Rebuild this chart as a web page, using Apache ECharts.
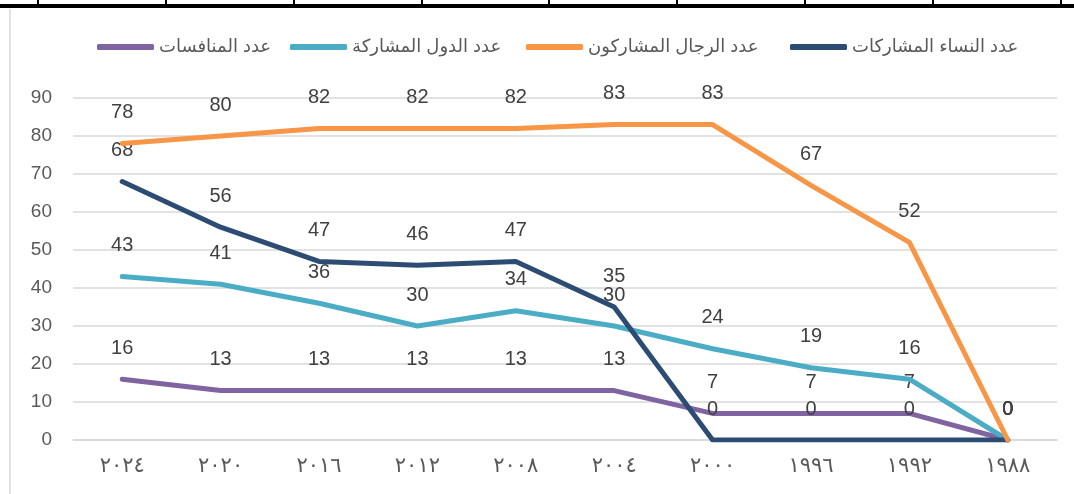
<!DOCTYPE html>
<html>
<head>
<meta charset="utf-8">
<script src="https://cdn.jsdelivr.net/npm/echarts@6/dist/echarts.min.js"></script>
<style>html,body{margin:0;padding:0;background:#fff}#c{width:1074px;height:494px}</style>
</head>
<body>
<div id="c"></div>
<script>
const categories = ['٢٠٢٤','٢٠٢٠','٢٠١٦','٢٠١٢','٢٠٠٨','٢٠٠٤','٢٠٠٠','١٩٩٦','١٩٩٢','١٩٨٨'];
const women = [68,56,47,46,47,35,0,0,0,0];
const men = [78,80,82,82,82,83,83,67,52,0];
const countries = [43,41,36,30,34,30,24,19,16,0];
const competitions = [16,13,13,13,13,13,7,7,7,0];
const yTicks = {min:0, max:90, interval:10};

const names = {
  women: 'عدد النساء المشاركات',
  men: 'عدد الرجال المشاركون',
  countries: 'عدد الدول المشاركة',
  competitions: 'عدد المنافسات'
};
const colors = {women:'#2C4C73', men:'#F79646', countries:'#4BACC6', competitions:'#8064A2'};

const chart = echarts.init(document.getElementById('c'));
function mkSeries(key, data, z){
  return {
    name: names[key], type:'line', data: data, z: z,
    symbol:'circle', symbolSize:0, showSymbol:true,
    lineStyle:{color:colors[key], width:5, cap:'round', join:'round'},
    itemStyle:{color:colors[key]},
    label:{show:true, position:'top', distance:21, color:'#404040', fontSize:20, fontFamily:'Liberation Sans, Arial, sans-serif'},
    emphasis:{disabled:true},
    animation:false
  };
}
function mkLegend(key, left){
  return {
    data:[names[key]], left:left, top:33, icon:'roundRect', itemWidth:57, itemHeight:6,
    itemStyle:{color:colors[key]},
    textStyle:{color:'#595959', fontSize:18, fontFamily:'Arial, DejaVu Sans, sans-serif'},
    selectedMode:false
  };
}
const tickXs = [38,166,294,422,549,677,805,933,1061];
const graphics = [
  {type:'rect', shape:{x:0,y:4,width:1074,height:4}, style:{fill:'#000'}},
  {type:'line', shape:{x1:10,y1:9,x2:10,y2:494}, style:{stroke:'#d9d9d9', lineWidth:1.5}}
].concat(tickXs.map(x=>({type:'line', shape:{x1:x,y1:0,x2:x,y2:5}, style:{stroke:'#000', lineWidth:2}})));

chart.setOption({
  animation:false,
  backgroundColor:'#fff',
  graphic: graphics,
  legend:[
    mkLegend('competitions', 92),
    mkLegend('countries', 285),
    mkLegend('men', 521),
    mkLegend('women', 785)
  ],
  grid:{left:73, right:17, top:98, bottom:54, containLabel:false},
  xAxis:{
    type:'category', data:categories, boundaryGap:true,
    axisLine:{show:true, lineStyle:{color:'#d9d9d9', width:1.5}},
    axisTick:{show:false},
    axisLabel:{color:'#595959', fontSize:21, margin:16, fontFamily:'DejaVu Sans, sans-serif'}
  },
  yAxis:{
    type:'value', min:yTicks.min, max:yTicks.max, interval:yTicks.interval,
    axisLine:{show:false}, axisTick:{show:false},
    splitLine:{lineStyle:{color:'#d9d9d9', width:1.5}},
    axisLabel:{color:'#595959', fontSize:19, margin:21, fontFamily:'Liberation Sans, Arial, sans-serif'}
  },
  series:[
    mkSeries('competitions', competitions, 2),
    mkSeries('countries', countries, 3),
    mkSeries('women', women, 4),
    mkSeries('men', men, 5)
  ]
});
</script>
</body>
</html>
